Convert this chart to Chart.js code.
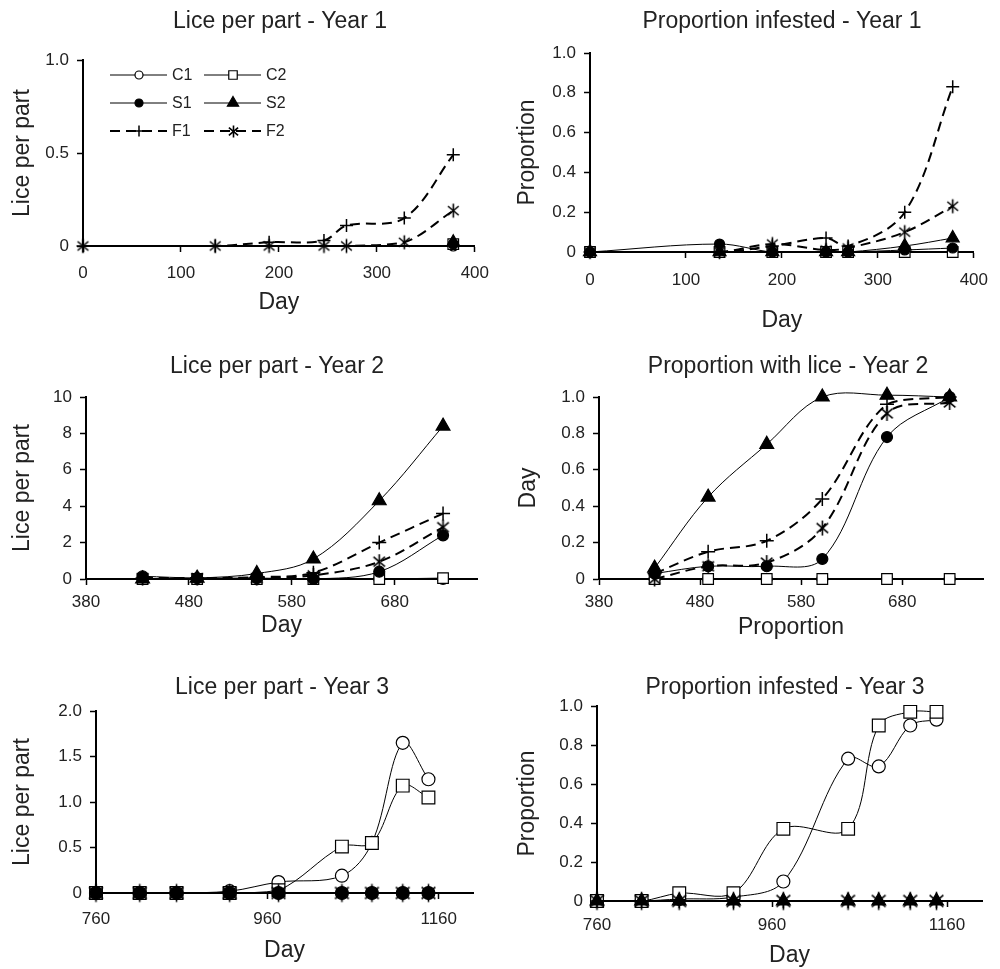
<!DOCTYPE html>
<html>
<head>
<meta charset="utf-8">
<title>Lice per part and proportion infested</title>
<script src="https://cdn.jsdelivr.net/npm/chart.js@4.4.1/dist/chart.umd.min.js"></script>
<style>
  html, body { margin: 0; padding: 0; background: #fff; overflow: hidden; }
  body { width: 1000px; height: 969px; position: relative; }
  canvas { position: absolute; }
</style>
</head>
<body>
<canvas id="p1"></canvas>
<canvas id="p2"></canvas>
<canvas id="p3"></canvas>
<canvas id="p4"></canvas>
<canvas id="p5"></canvas>
<canvas id="p6"></canvas>
<script>
// treatment groups
const groupNames = ['C1', 'C2', 'S1', 'S2', 'F1', 'F2'];

// sampling days
const daysY1 = [0, 135, 190, 246, 269, 328, 378];
const daysY2 = [435, 488, 546, 601, 665, 727];
const daysY3 = [760, 811, 854, 916, 973, 1047, 1082, 1118, 1148];

// axis ticks
const dayTicksY1 = [0, 100, 200, 300, 400];
const dayTicksY2 = [380, 480, 580, 680];
const dayTicksY3 = [760, 960, 1160];
const liceTicksY1 = [0, 0.5, 1];
const liceTicksY2 = [0, 2, 4, 6, 8, 10];
const liceTicksY3 = [0, 0.5, 1, 1.5, 2];
const propTicks = [0, 0.2, 0.4, 0.6, 0.8, 1];

// Lice per part - Year 1 (C and S only at the last visit)
const lice1C1 = [null, null, null, null, null, null, 0];
const lice1C2 = [null, null, null, null, null, null, 0.01];
const lice1S1 = [null, null, null, null, null, null, 0.01];
const lice1S2 = [null, null, null, null, null, null, 0.02];
const lice1F1 = [0, 0, 0.02, 0.03, 0.11, 0.15, 0.49];
const lice1F2 = [0, 0, 0, 0, 0, 0.02, 0.19];

// Proportion infested - Year 1
const prop1C1 = [0, 0, 0, 0, 0, 0, 0];
const prop1C2 = [0, 0, 0, 0, 0, 0, 0];
const prop1S1 = [0, 0.04, 0, 0, 0, 0.01, 0.02];
const prop1S2 = [0, 0, 0, 0, 0, 0.03, 0.07];
const prop1F1 = [0, 0, 0.03, 0.07, 0.03, 0.2, 0.83];
const prop1F2 = [0, 0, 0.04, 0.01, 0.02, 0.1, 0.23];

// Lice per part - Year 2
const lice2C1 = [0, 0, 0, 0, 0, 0];
const lice2C2 = [0, 0, 0, 0, 0, 0.05];
const lice2S1 = [0.15, 0.05, 0.05, 0, 0.4, 2.4];
const lice2S2 = [0, 0.05, 0.3, 1.1, 4.3, 8.4];
const lice2F1 = [0.05, 0.05, 0.1, 0.35, 2.0, 3.6];
const lice2F2 = [0.05, 0.05, 0.05, 0.2, 0.95, 2.85];

// Proportion with lice - Year 2
const prop2C1 = [0, 0, 0, 0, 0, 0];
const prop2C2 = [0, 0, 0, 0, 0, 0];
const prop2S1 = [0.03, 0.07, 0.07, 0.11, 0.78, 1.0];
const prop2S2 = [0.06, 0.45, 0.74, 1.0, 1.01, 1.0];
const prop2F1 = [0.03, 0.15, 0.21, 0.44, 0.96, 1.0];
const prop2F2 = [0, 0.07, 0.09, 0.28, 0.91, 0.97];

// Lice per part - Year 3 (no S2 markers visible)
const lice3C1 = [0, 0, 0, 0.02, 0.12, 0.19, 0.55, 1.65, 1.25];
const lice3C2 = [0, 0, 0, 0, 0.03, 0.51, 0.55, 1.18, 1.05];
const lice3S1 = [0, 0, 0, 0, 0, 0, 0, 0, 0];
const lice3S2 = [null, null, null, null, null, null, null, null, null];
const lice3F1 = [0, 0, 0, 0, 0, 0, 0, 0, 0];
const lice3F2 = [0, 0, 0, 0, 0, 0, 0, 0, 0];

// Proportion infested - Year 3 (no S1 markers visible)
const prop3C1 = [0, 0, 0.01, 0.02, 0.1, 0.73, 0.69, 0.9, 0.93];
const prop3C2 = [0, 0, 0.04, 0.04, 0.37, 0.37, 0.9, 0.97, 0.97];
const prop3S1 = [null, null, null, null, null, null, null, null, null];
const prop3S2 = [0, 0, 0, 0, 0, 0, 0, 0, 0];
const prop3F1 = [0, 0, 0, 0, 0, 0, 0, 0, 0];
const prop3F2 = [0, 0, 0, 0, 0, 0, 0, 0, 0];

const FONT = '"Liberation Sans", Arial, Helvetica, sans-serif';
const INK = '#222';
Chart.defaults.font.family = FONT;
Chart.defaults.color = INK;

// marker look for each group
const looks = {
  C1: { shape: 'circle', fill: '#fff', dashed: false, order: 5 },
  C2: { shape: 'rect', fill: '#fff', dashed: false, order: 4 },
  S1: { shape: 'circle', fill: '#000', dashed: false, order: 1 },
  S2: { shape: 'triangle', fill: '#000', dashed: false, order: 0 },
  F1: { shape: 'cross', fill: '#000', dashed: true, order: 3 },
  F2: { shape: 'star', fill: '#000', dashed: true, order: 2 }
};
const DASH = [10, 6];

// asterisk (vertical bar and an X) used for F2
function asterisk(r, lw) {
  const s = 2 * Math.ceil(r + lw) + 1;
  const cv = document.createElement('canvas');
  cv.width = s; cv.height = s;
  const g = cv.getContext('2d');
  g.strokeStyle = '#000';
  g.lineWidth = lw;
  const c = s / 2;
  [90, 40, 140].forEach(a => {
    const dx = Math.cos(a * Math.PI / 180) * r, dy = Math.sin(a * Math.PI / 180) * r;
    g.beginPath(); g.moveTo(c - dx, c - dy); g.lineTo(c + dx, c + dy); g.stroke();
  });
  return cv;
}

function drawMark(ctx, shape, x, y, r, fill) {
  ctx.save();
  ctx.setLineDash([]);
  ctx.lineWidth = 1.2;
  ctx.strokeStyle = '#000';
  ctx.fillStyle = fill;
  ctx.beginPath();
  if (shape === 'circle') {
    ctx.arc(x, y, r, 0, Math.PI * 2);
    ctx.fill(); ctx.stroke();
  } else if (shape === 'rect') {
    const s = r * Math.SQRT1_2;
    ctx.rect(x - s, y - s, 2 * s, 2 * s);
    ctx.fill(); ctx.stroke();
  } else if (shape === 'triangle') {
    ctx.moveTo(x, y - r);
    ctx.lineTo(x + r * 0.866, y + r * 0.5);
    ctx.lineTo(x - r * 0.866, y + r * 0.5);
    ctx.closePath();
    ctx.fill(); ctx.stroke();
  } else if (shape === 'cross') {
    ctx.lineWidth = 1.5;
    ctx.moveTo(x - r, y); ctx.lineTo(x + r, y);
    ctx.moveTo(x, y - r); ctx.lineTo(x, y + r);
    ctx.stroke();
  } else {
    const img = asterisk(r, 1.6);
    ctx.drawImage(img, Math.round(x - img.width / 2), Math.round(y - img.height / 2));
  }
  ctx.restore();
}

// panel heading
const panelTitle = {
  id: 'panelTitle',
  afterDraw(chart, args, opts) {
    const ctx = chart.ctx;
    ctx.save();
    ctx.font = '23px ' + FONT;
    ctx.fillStyle = INK;
    ctx.textAlign = 'center';
    ctx.textBaseline = 'middle';
    ctx.fillText(opts.text, opts.x, opts.y);
    ctx.restore();
  }
};

// key drawn inside the first panel: line - marker - line  label
const keyBox = {
  id: 'keyBox',
  afterDraw(chart, args, opts) {
    if (!opts.show) return;
    const ctx = chart.ctx;
    const sizes = { circle: 4, rect: 6, triangle: 6.5, cross: 5.5, star: 6 };
    const cols = [110, 204];
    const rows = [75, 103, 131];
    groupNames.forEach((name, i) => {
      const lk = looks[name];
      const x0 = cols[i % 2], y = rows[Math.floor(i / 2)];
      ctx.save();
      ctx.strokeStyle = '#000';
      ctx.lineWidth = lk.dashed ? 2 : 1;
      ctx.setLineDash(lk.dashed ? DASH : []);
      ctx.beginPath(); ctx.moveTo(x0, y); ctx.lineTo(x0 + 57, y); ctx.stroke();
      ctx.restore();
      drawMark(ctx, lk.shape, x0 + 29, y, sizes[lk.shape], lk.fill);
      ctx.save();
      ctx.font = '16px ' + FONT;
      ctx.fillStyle = INK;
      ctx.textBaseline = 'middle';
      ctx.fillText(name, x0 + 62, y + 1);
      ctx.restore();
    });
  }
};

const smallMarks = { circle: 5, rect: 7.5, triangle: 7.5, cross: 6.5, star: 7 };
const midMarks = { circle: 5.5, rect: 7.5, triangle: 8, cross: 7, star: 7.5 };
const bigMarks = { circle: 6.5, rect: 9, triangle: 8, cross: 7, star: 9 };

const panels = [
  { id: 'p1', box: [0, 0, 500, 318], area: [83, 60, 482, 246], title: 'Lice per part - Year 1', titleAt: [280, 22],
    xTitle: 'Day', yTitle: 'Lice per part', xTitleY: 302, yTitleX: 23, xPad: 11,
    xRange: [0, 400], xTicks: dayTicksY1, yMax: 1, yTicks: liceTicksY1, dec: 1, days: daysY1,
    series: [lice1C1, lice1C2, lice1S1, lice1S2, lice1F1, lice1F2], marks: smallMarks, key: true },
  { id: 'p2', box: [500, 0, 500, 336], area: [590, 53, 982, 252], title: 'Proportion infested - Year 1', titleAt: [782, 22],
    xTitle: 'Day', yTitle: 'Proportion', xTitleY: 320, yTitleX: 528, xPad: 12,
    xRange: [0, 400], xTicks: dayTicksY1, yMax: 1, yTicks: propTicks, dec: 1, days: daysY1,
    series: [prop1C1, prop1C2, prop1S1, prop1S2, prop1F1, prop1F2], marks: smallMarks },
  { id: 'p3', box: [0, 340, 500, 301], area: [86, 397, 477, 579], title: 'Lice per part - Year 2', titleAt: [277, 367],
    xTitle: 'Day', yTitle: 'Lice per part', xTitleY: 625, yTitleX: 23, xPad: 7,
    xRange: [380, 760], xTicks: dayTicksY2, yMax: 10, yTicks: liceTicksY2, dec: 0, days: daysY2,
    series: [lice2C1, lice2C2, lice2S1, lice2S2, lice2F1, lice2F2], marks: midMarks },
  { id: 'p4', box: [500, 340, 500, 303], area: [599, 397, 983, 579], title: 'Proportion with lice - Year 2', titleAt: [788, 367],
    xTitle: 'Proportion', yTitle: 'Day', xTitleY: 627, yTitleX: 529, xPad: 7,
    xRange: [380, 760], xTicks: dayTicksY2, yMax: 1, yTicks: propTicks, dec: 1, days: daysY2,
    series: [prop2C1, prop2C2, prop2S1, prop2S2, prop2F1, prop2F2], marks: midMarks },
  { id: 'p5', box: [0, 660, 500, 306], area: [96, 711, 473, 893], title: 'Lice per part - Year 3', titleAt: [282, 688],
    xTitle: 'Day', yTitle: 'Lice per part', xTitleY: 950, yTitleX: 23, xPad: 10,
    xRange: [760, 1200], xTicks: dayTicksY3, yMax: 2, yTicks: liceTicksY3, dec: 1, days: daysY3,
    series: [lice3C1, lice3C2, lice3S1, lice3S2, lice3F1, lice3F2], marks: bigMarks },
  { id: 'p6', box: [500, 660, 500, 309], area: [597, 706, 982, 903], title: 'Proportion infested - Year 3', titleAt: [785, 688],
    xTitle: 'Day', yTitle: 'Proportion', xTitleY: 957, yTitleX: 528, xPad: 8,
    xRange: [760, 1200], xTicks: dayTicksY3, yMax: 1, yTicks: propTicks, dec: 1, days: daysY3,
    series: [prop3C1, prop3C2, prop3S1, prop3S2, prop3F1, prop3F2], marks: bigMarks }
];

function makeDataset(name, days, vals, marks) {
  const lk = looks[name];
  return {
    label: name,
    data: days.map((d, i) => ({ x: d, y: vals[i] })),
    borderColor: '#000',
    backgroundColor: lk.fill,
    borderWidth: lk.dashed ? 2 : 1,
    borderDash: lk.dashed ? DASH : [],
    pointStyle: lk.shape === 'star' ? asterisk(marks.star, 1.6) : lk.shape,
    pointRadius: marks[lk.shape],
    pointBorderWidth: lk.shape === 'cross' ? 1.5 : 1.2,
    pointBackgroundColor: lk.fill,
    pointBorderColor: '#000',
    tension: 0.35,
    clip: false,
    order: lk.order
  };
}

function axisStyle(extra) {
  return Object.assign({
    grid: { drawOnChartArea: false, drawTicks: true, tickLength: 6, tickColor: '#000', tickWidth: 1.5 },
    border: { color: '#000', width: 2 }
  }, extra);
}

function buildPanel(p) {
  const canvas = document.getElementById(p.id);
  const [cx, cy, cw, ch] = p.box;
  const [l, t, r, b] = p.area;
  canvas.width = cw; canvas.height = ch;
  canvas.style.left = cx + 'px';
  canvas.style.top = cy + 'px';
  const half = 23 * 1.2 / 2;
  const yW = l - cx;
  const xH = Math.round(p.xTitleY - b + half);

  new Chart(canvas, {
    type: 'line',
    data: { datasets: groupNames.map((n, i) => makeDataset(n, p.days, p.series[i], p.marks)) },
    options: {
      responsive: false,
      animation: false,
      layout: { padding: { left: 0, top: t - cy, right: cx + cw - r, bottom: Math.max(0, cy + ch - b - xH) } },
      plugins: {
        legend: { display: false },
        tooltip: { enabled: false },
        panelTitle: { text: p.title, x: p.titleAt[0] - cx, y: p.titleAt[1] - cy },
        keyBox: { show: !!p.key }
      },
      scales: {
        x: axisStyle({
          type: 'linear',
          min: p.xRange[0],
          max: p.xRange[1],
          afterBuildTicks: s => { s.ticks = p.xTicks.map(v => ({ value: v })); },
          afterFit: s => { s.height = xH; },
          ticks: { font: { size: 17 }, color: INK, padding: p.xPad, maxRotation: 0, autoSkip: false,
                   callback: v => String(v) },
          title: { display: true, text: p.xTitle, font: { size: 23 }, color: INK, padding: 0 }
        }),
        y: axisStyle({
          min: 0,
          max: p.yMax,
          afterBuildTicks: s => { s.ticks = p.yTicks.map(v => ({ value: v })); },
          afterFit: s => { s.width = yW; },
          ticks: {
            font: { size: 17 }, color: INK, padding: 8, autoSkip: false,
            callback: v => v === 0 ? '0' : v.toFixed(p.dec)
          },
          title: { display: true, text: p.yTitle, font: { size: 23 }, color: INK, padding: { top: p.yTitleX - cx - half, bottom: 0 } }
        })
      }
    },
    plugins: [panelTitle, keyBox]
  });
}

panels.forEach(buildPanel);
</script>
</body>
</html>
